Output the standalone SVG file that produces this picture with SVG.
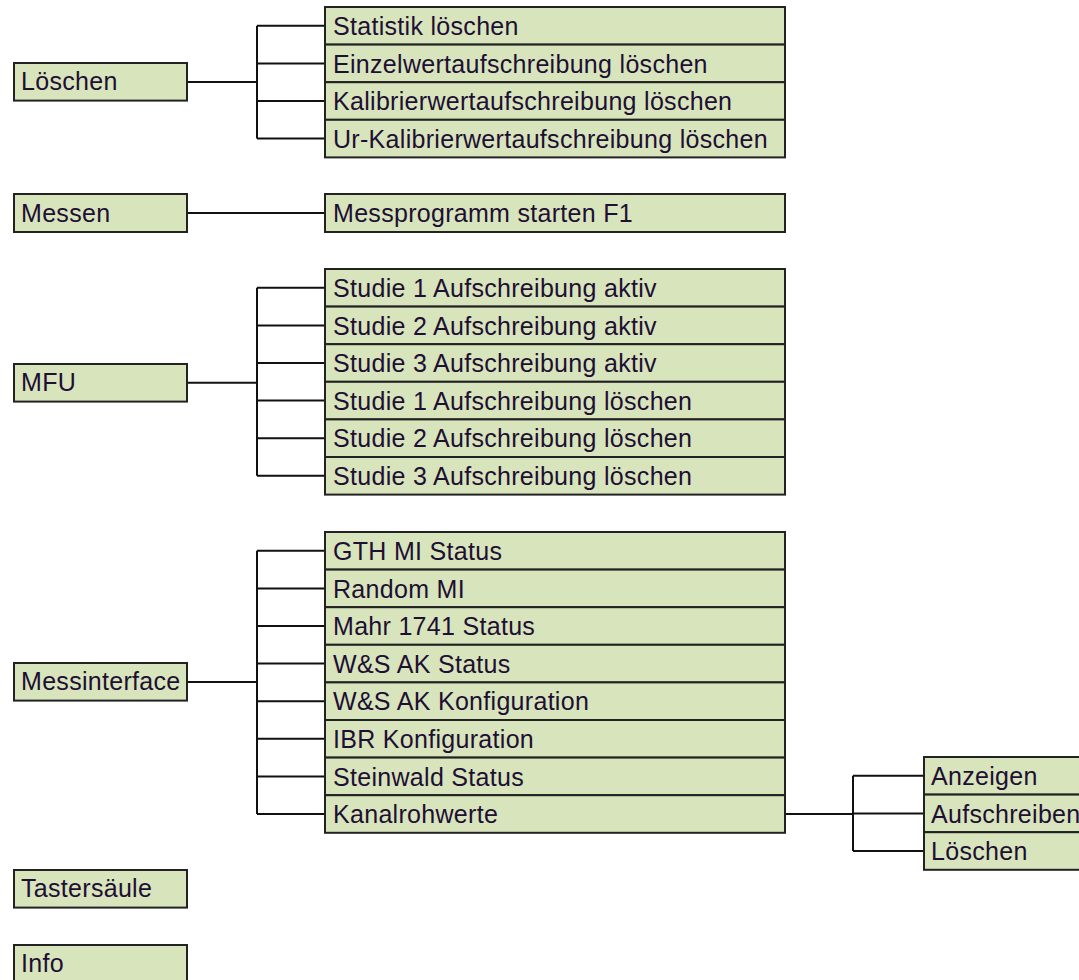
<svg xmlns="http://www.w3.org/2000/svg" width="1079" height="980" viewBox="0 0 1079 980">
<style>
.box{fill:#d7e4bc;stroke:#222;stroke-width:2}
.t{font-family:"Liberation Sans",Arial,sans-serif;font-size:25px;fill:#1e0f33;letter-spacing:0.3px}
.c{stroke:#111;stroke-width:2;fill:none}
</style>
<rect width="1079" height="980" fill="#fff"/>
<g id="connectors">
<path class="c" d="M187 82H257M257 25.8V138.6M257 25.8H325M257 63.4H325M257 101H325M257 138.6H325"/>
<path class="c" d="M187 213H325"/>
<path class="c" d="M187 382.8H257M257 287.8V475.8M257 287.8H325M257 325.4H325M257 363H325M257 400.6H325M257 438.2H325M257 475.8H325"/>
<path class="c" d="M187 682H257M257 550.8V814M257 550.8H325M257 588.4H325M257 626H325M257 663.6H325M257 701.2H325M257 738.8H325M257 776.4H325M257 814H325"/>
<path class="c" d="M785 814H853M853 775.8V851M853 775.8H924M853 813.4H924M853 851H924"/>
</g>
<g id="n-loeschen"><rect class="box" x="14" y="63" width="173" height="37.6"/><text class="t" x="21" y="90">Löschen</text></g>
<g id="n-statistik"><rect class="box" x="325" y="7" width="460" height="37.6"/><text class="t" x="333" y="35">Statistik löschen</text></g>
<g id="n-einzel"><rect class="box" x="325" y="44.6" width="460" height="37.6"/><text class="t" x="333" y="72.6">Einzelwertaufschreibung löschen</text></g>
<g id="n-kalib"><rect class="box" x="325" y="82.2" width="460" height="37.6"/><text class="t" x="333" y="110.2">Kalibrierwertaufschreibung löschen</text></g>
<g id="n-urkalib"><rect class="box" x="325" y="119.8" width="460" height="37.6"/><text class="t" x="333" y="147.8">Ur-Kalibrierwertaufschreibung löschen</text></g>
<g id="n-messen"><rect class="box" x="14" y="194" width="173" height="38"/><text class="t" x="21" y="222">Messen</text></g>
<g id="n-messprog"><rect class="box" x="325" y="194" width="460" height="38"/><text class="t" x="333" y="222">Messprogramm starten F1</text></g>
<g id="n-mfu"><rect class="box" x="14" y="364" width="173" height="37.6"/><text class="t" x="21" y="391">MFU</text></g>
<g id="n-s1a"><rect class="box" x="325" y="269" width="460" height="37.6"/><text class="t" x="333" y="297">Studie 1 Aufschreibung aktiv</text></g>
<g id="n-s2a"><rect class="box" x="325" y="306.6" width="460" height="37.6"/><text class="t" x="333" y="334.6">Studie 2 Aufschreibung aktiv</text></g>
<g id="n-s3a"><rect class="box" x="325" y="344.2" width="460" height="37.6"/><text class="t" x="333" y="372.2">Studie 3 Aufschreibung aktiv</text></g>
<g id="n-s1l"><rect class="box" x="325" y="381.8" width="460" height="37.6"/><text class="t" x="333" y="409.8">Studie 1 Aufschreibung löschen</text></g>
<g id="n-s2l"><rect class="box" x="325" y="419.4" width="460" height="37.6"/><text class="t" x="333" y="447.4">Studie 2 Aufschreibung löschen</text></g>
<g id="n-s3l"><rect class="box" x="325" y="457" width="460" height="37.6"/><text class="t" x="333" y="485">Studie 3 Aufschreibung löschen</text></g>
<g id="n-messinterface"><rect class="box" x="14" y="663" width="173" height="37.6"/><text class="t" x="21" y="690">Messinterface</text></g>
<g id="n-gth"><rect class="box" x="325" y="532" width="460" height="37.6"/><text class="t" x="333" y="560">GTH MI Status</text></g>
<g id="n-random"><rect class="box" x="325" y="569.6" width="460" height="37.6"/><text class="t" x="333" y="597.6">Random MI</text></g>
<g id="n-mahr"><rect class="box" x="325" y="607.2" width="460" height="37.6"/><text class="t" x="333" y="635.2">Mahr 1741 Status</text></g>
<g id="n-wsstatus"><rect class="box" x="325" y="644.8" width="460" height="37.6"/><text class="t" x="333" y="672.8">W&amp;S AK Status</text></g>
<g id="n-wskonf"><rect class="box" x="325" y="682.4" width="460" height="37.6"/><text class="t" x="333" y="710.4">W&amp;S AK Konfiguration</text></g>
<g id="n-ibr"><rect class="box" x="325" y="720" width="460" height="37.6"/><text class="t" x="333" y="748">IBR Konfiguration</text></g>
<g id="n-steinwald"><rect class="box" x="325" y="757.6" width="460" height="37.6"/><text class="t" x="333" y="785.6">Steinwald Status</text></g>
<g id="n-kanal"><rect class="box" x="325" y="795.2" width="460" height="37.6"/><text class="t" x="333" y="823.2">Kanalrohwerte</text></g>
<g id="n-anzeigen"><rect class="box" x="924" y="757" width="170" height="37.6"/><text class="t" x="931" y="785">Anzeigen</text></g>
<g id="n-aufschreiben"><rect class="box" x="924" y="794.6" width="170" height="37.6"/><text class="t" x="931" y="822.6">Aufschreiben</text></g>
<g id="n-kloeschen"><rect class="box" x="924" y="832.2" width="170" height="37.6"/><text class="t" x="931" y="860.2">Löschen</text></g>
<g id="n-taster"><rect class="box" x="14" y="870" width="173" height="37.6"/><text class="t" x="21" y="897">Tastersäule</text></g>
<g id="n-info"><rect class="box" x="14" y="945" width="173" height="37.6"/><text class="t" x="21" y="972">Info</text></g>
</svg>
